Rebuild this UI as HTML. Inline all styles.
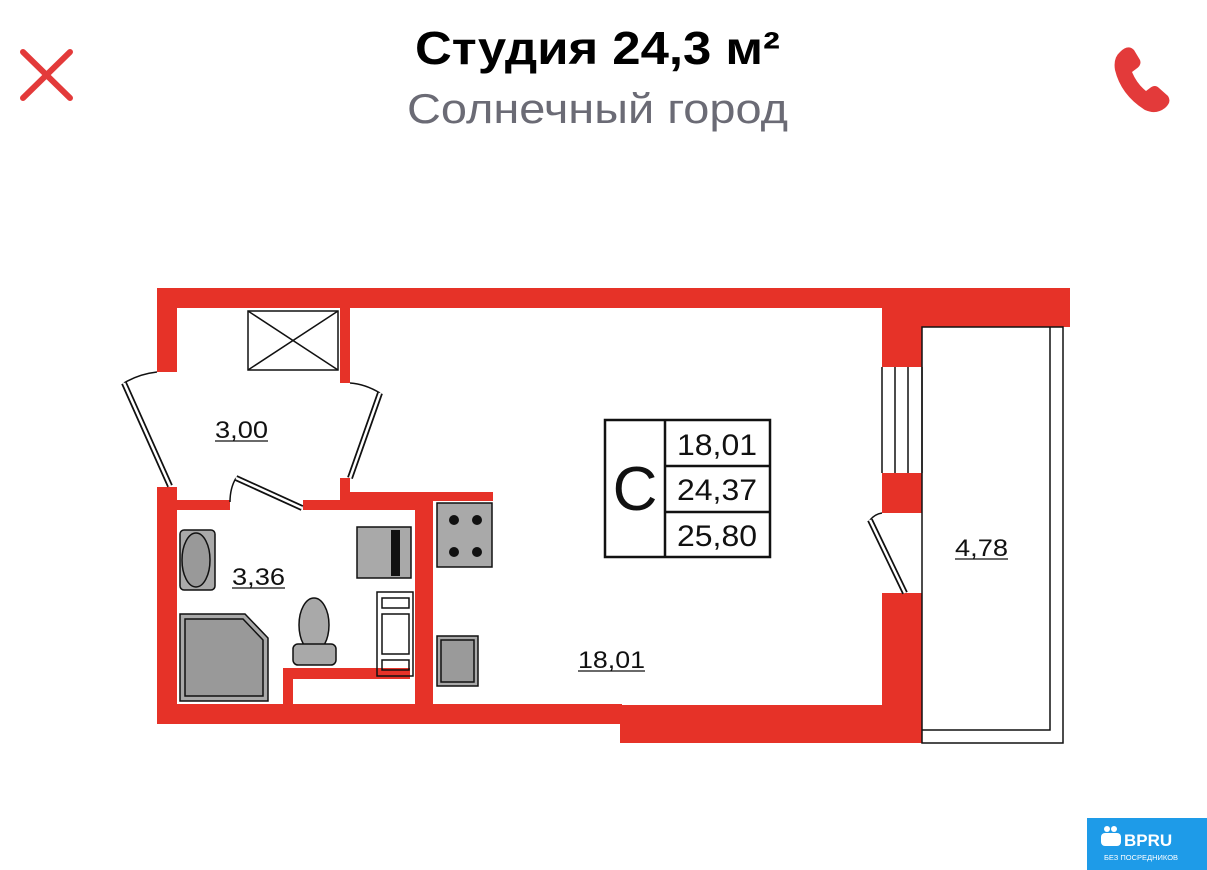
<!DOCTYPE html>
<html><head><meta charset="utf-8"><style>
html,body{margin:0;padding:0;background:#fff;width:1207px;height:870px;overflow:hidden}
</style></head><body>
<svg width="1207" height="870" viewBox="0 0 1207 870" xmlns="http://www.w3.org/2000/svg" style="position:absolute;left:0;top:0">
<rect width="1207" height="870" fill="#fff"/>
<text x="415" y="64" textLength="365" lengthAdjust="spacingAndGlyphs" font-family="Liberation Sans, sans-serif" font-weight="bold" font-size="46" fill="#000">Студия 24,3 м²</text>
<text x="407" y="123" textLength="381" lengthAdjust="spacingAndGlyphs" font-family="Liberation Sans, sans-serif" font-size="42" fill="#6b6b75">Солнечный город</text>
<g stroke="#e33a3a" stroke-width="6" stroke-linecap="round"><line x1="23" y1="52" x2="70" y2="98"/><line x1="70" y1="52" x2="23" y2="98"/></g>
<path d="M1120 52 q8 -8 14 -2 l6 10 q2 5 -4 9 l-4 3 q5 12 14 19 l4 -3 q5 -4 9 0 l9 8 q4 6 -3 12 q-9 7 -20 2 q-24 -15 -30 -40 q-2 -12 5 -18z" fill="#e33a3a"/>

<g fill="#e63228">
<rect x="157" y="288" width="913" height="20"/>
<rect x="922" y="288" width="148" height="39"/>
<rect x="157" y="288" width="20" height="84"/>
<rect x="157" y="487" width="20" height="236"/>
<rect x="340" y="308" width="10" height="75"/>
<rect x="340" y="478" width="10" height="24"/>
<rect x="340" y="492" width="153" height="9"/>
<rect x="177" y="500" width="53" height="10"/>
<rect x="303" y="500" width="112" height="10"/>
<rect x="415" y="500" width="18" height="223"/>
<rect x="283" y="668" width="127" height="11"/>
<rect x="283" y="668" width="10" height="37"/>
<rect x="157" y="704" width="465" height="20"/>
<rect x="620" y="705" width="302" height="38"/>
<rect x="882" y="308" width="40" height="59"/>
<rect x="882" y="473" width="40" height="40"/>
<rect x="882" y="593" width="40" height="150"/>
</g>
<g fill="none" stroke="#111" stroke-width="1.5">
<line x1="882" y1="367" x2="882" y2="473"/><line x1="895" y1="367" x2="895" y2="473"/><line x1="908" y1="367" x2="908" y2="473"/><line x1="922" y1="367" x2="922" y2="473"/>
<rect x="922" y="327" width="141" height="416"/>
<polyline points="1050,327 1050,730 922,730"/>
<rect x="248" y="311" width="90" height="59"/>
<line x1="248" y1="311" x2="338" y2="370"/><line x1="338" y1="311" x2="248" y2="370"/>
<path d="M124 383 q15 -9 33 -11"/>
<path d="M380 393 q-15 -9 -30 -10"/>
<path d="M236 478 q-6 10 -6 24"/>
<path d="M870 520 q5 -6 12 -7"/>
<rect x="605" y="420" width="165" height="137" stroke-width="2.5"/>
<line x1="665" y1="420" x2="665" y2="557" stroke-width="2.5"/>
<line x1="665" y1="466" x2="770" y2="466" stroke-width="2.5"/>
<line x1="665" y1="512" x2="770" y2="512" stroke-width="2.5"/>
</g>
<g stroke="#111" stroke-width="6"><line x1="124" y1="383" x2="170" y2="486"/><line x1="380" y1="393" x2="350" y2="478"/><line x1="236" y1="478" x2="302" y2="508"/><line x1="870" y1="520" x2="905" y2="593"/></g>
<g stroke="#fff" stroke-width="2.5"><line x1="124" y1="383" x2="170" y2="486"/><line x1="380" y1="393" x2="350" y2="478"/><line x1="236" y1="478" x2="302" y2="508"/><line x1="870" y1="520" x2="905" y2="593"/></g>

<g stroke="#111" stroke-width="1.5" fill="#a9a9a9">
<rect x="437" y="503" width="55" height="64"/>
<rect x="357" y="527" width="54" height="51"/>
<rect x="437" y="636" width="41" height="50"/>
<rect x="441" y="640" width="33" height="42" fill="#9a9a9a"/>
<path d="M180 614 h65 l23 24 v63 h-88z"/>
<path d="M185 619 h58 l20 21 v56 h-78z" fill="#999"/>
<rect x="180" y="530" width="35" height="60" rx="4"/>
<ellipse cx="196" cy="560" rx="14" ry="27" fill="#999"/>
<ellipse cx="314" cy="625" rx="15" ry="27"/>
<rect x="293" y="644" width="43" height="21" rx="5"/>
</g>
<g fill="#111"><circle cx="454" cy="520" r="5"/><circle cx="477" cy="520" r="5"/><circle cx="454" cy="552" r="5"/><circle cx="477" cy="552" r="5"/>
<rect x="391" y="530" width="9" height="46"/></g>
<g fill="none" stroke="#111" stroke-width="1.5">
<rect x="377" y="592" width="36" height="84"/><rect x="382" y="598" width="27" height="10"/><rect x="382" y="614" width="27" height="40"/><rect x="382" y="660" width="27" height="10"/>
</g>

<g font-family="Liberation Sans, sans-serif" fill="#111">
<text x="635" y="510" text-anchor="middle" font-size="62">C</text>
<text x="677" y="455" textLength="80" lengthAdjust="spacingAndGlyphs" font-size="30">18,01</text>
<text x="677" y="500" textLength="80" lengthAdjust="spacingAndGlyphs" font-size="30">24,37</text>
<text x="677" y="546" textLength="80" lengthAdjust="spacingAndGlyphs" font-size="30">25,80</text>
<text x="215" y="438" textLength="53" lengthAdjust="spacingAndGlyphs" font-size="24">3,00</text>
<text x="232" y="585" textLength="53" lengthAdjust="spacingAndGlyphs" font-size="24">3,36</text>
<text x="578" y="668" textLength="67" lengthAdjust="spacingAndGlyphs" font-size="24">18,01</text>
<text x="955" y="556" textLength="53" lengthAdjust="spacingAndGlyphs" font-size="24">4,78</text>
</g>
<g stroke="#111" stroke-width="1.3">
<line x1="215" y1="441" x2="268" y2="441"/>
<line x1="232" y1="588" x2="285" y2="588"/>
<line x1="578" y1="671" x2="645" y2="671"/>
<line x1="955" y1="559" x2="1008" y2="559"/>
</g>

<rect x="1087" y="818" width="120" height="52" fill="#1e9be8"/>
<circle cx="1107" cy="829" r="3" fill="#fff"/><circle cx="1114" cy="829" r="3" fill="#fff"/>
<rect x="1101" y="833" width="20" height="13" rx="4" fill="#fff"/>
<text x="1124" y="846" font-family="Liberation Sans, sans-serif" font-weight="bold" font-size="17" fill="#fff">BPRU</text>
<text x="1104" y="860" font-family="Liberation Sans, sans-serif" font-size="7.5" fill="#fff">БЕЗ ПОСРЕДНИКОВ</text>
</svg>
</body></html>
